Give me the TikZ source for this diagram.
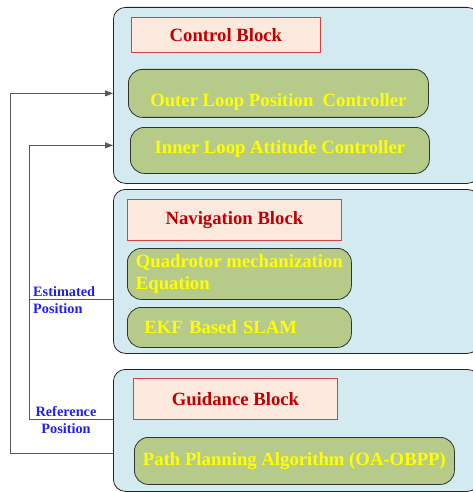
\documentclass[tikz,border=0pt]{standalone}
\usepackage{fontspec}
\setmainfont{Liberation Serif}
\usetikzlibrary{arrows.meta}

\begin{document}
\begin{tikzpicture}[x=1pt,y=-1pt,
  block/.style={draw=black!85, line width=0.8pt, fill=colBlock, rounded corners=12pt,
    minimum width=366pt, anchor=north west, inner sep=0pt},
  title/.style={draw=colTitleLine, line width=0.8pt, fill=colTitle, text=colTitleText,
    font=\fontsize{18.7}{22}\selectfont\bfseries, anchor=north west, inner sep=0pt},
  task/.style={draw=black!80, line width=0.8pt, fill=colTask, text=colTaskText, rounded corners=14pt,
    font=\fontsize{18.7}{22}\selectfont\bfseries, anchor=north west, inner sep=0pt},
  conn/.style={draw=black!65, line width=0.9pt},
  lbl/.style={text=colLbl, font=\fontsize{14.3}{16.5}\selectfont\bfseries, inner sep=0pt}]

% Colours
\definecolor{colBlock}{HTML}{D3EAF0}
\definecolor{colTitle}{HTML}{FCE9DE}
\definecolor{colTitleLine}{HTML}{D94040}
\definecolor{colTitleText}{HTML}{C00000}
\definecolor{colTask}{HTML}{B6CA8A}
\definecolor{colTaskText}{HTML}{FFFF00}
\definecolor{colLbl}{HTML}{1F1FF0}

\useasboundingbox (0,0) rectangle (473,492);
\clip (0,0) rectangle (473,492);

% Control block
\node[block, minimum height=176pt] (ctrl) at (113,7) {};
\node[title, minimum width=189pt, minimum height=35pt] (ctrltitle) at (131,17) {Control Block};
\node[task, minimum width=300pt, minimum height=48pt, text height=30pt, text depth=4pt] (outer) at (128,69)
  {Outer Loop Position \ Controller};
\node[task, minimum width=299pt, minimum height=46pt, text depth=7pt] (inner) at (130,127)
  {Inner Loop Attitude Controller};

% Navigation block
\node[block, minimum height=164pt] (nav) at (113,189) {};
\node[title, minimum width=214pt, minimum height=41pt] (navtitle) at (127,199) {Navigation Block};
\node[task, minimum width=224pt, minimum height=51pt, align=left] (mech) at (127,248)
  {Quadrotor mechanization\\Equation};
\node[task, minimum width=224pt, minimum height=40pt, text width=190pt, align=left] (ekf) at (127,307)
  {EKF Based SLAM};

% Guidance block
\node[block, minimum height=122pt] (guid) at (113,369) {};
\node[title, minimum width=204pt, minimum height=41pt] (guidtitle) at (133,378) {Guidance Block};
\node[task, minimum width=320pt, minimum height=47pt] (path) at (134,437) {Path Planning Algorithm (OA-OBPP)};

% Feedback lines
\draw[conn, -{Triangle[length=8pt,width=6pt]}] ([yshift=-23pt]guid.west) -- ++(-103,0) |- (ctrl.west |- outer);
\draw[conn, -{Triangle[length=8pt,width=6pt]}] (guid.west |- guidtitle.south) -- ++(-84,0) |- ([yshift=5pt]ctrl.west |- inner);
\draw[conn] (nav.west |- mech.south) -- ++(-84,0);

% Line labels
\node[lbl, align=left, anchor=west] (est) at (33,300) {Estimated\\Position};
\node[lbl, align=center] (ref) at (66,420) {Reference\\Position};

\end{tikzpicture}
\end{document}
